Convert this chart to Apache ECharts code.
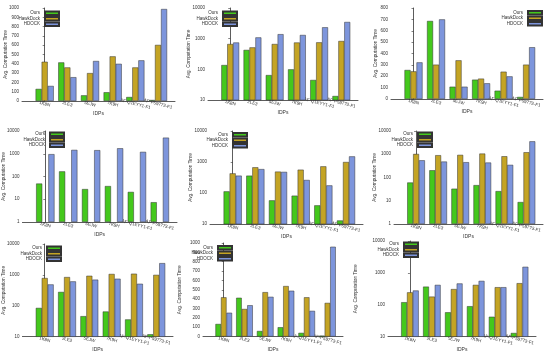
<!DOCTYPE html>
<html><head><meta charset="utf-8">
<script src="https://cdn.jsdelivr.net/npm/echarts@6/dist/echarts.min.js"></script>
<style>html,body{margin:0;padding:0;background:#fff}#c{width:550px;height:353px}</style>
</head><body><div id="c"></div>
<script>
const categories = ['1K8N', '2LE3', '5EJW', '7K9H', 'AF-Q1EYY1-F1', 'AF-P59773-F1'];
const seriesNames = ['Ours', 'HawkDock', 'HDOCK'];

const ours1 = [130, 415, 61, 94, 43, 11];
const hawk1 = [422, 361, 300, 480, 361, 603];
const hdock1 = [162, 256, 430, 400, 437, 989];

const ours2 = [138, 430, 65, 100, 45, 13.5];
const hawk2 = [670, 520, 670, 750, 760, 840];
const hdock2 = [750, 1100, 1400, 1320, 2350, 3500];

const ours3 = [255, 686, 108, 170, 73, 18];
const hawk3 = [243, 302, 340, 179, 240, 302];
const hdock3 = [322, 700, 108, 138, 199, 455];

const ours4 = [49, 168, 28, 38, 21, 7.4];
const hawk4 = [null, null, null, null, null, null];
const hdock4 = [960, 1480, 1440, 1740, 1210, 5100];

const ours5 = [113, 363, 58, 82, 40, 13];
const hawk5 = [430, 675, 490, 565, 725, 1000];
const hdock5 = [363, 590, 480, 263, 176, 1520];

const ours6 = [61, 205, 33, 47, 26, 8.8];
const hawk6 = [1030, 910, 940, 1070, 820, 1220];
const hdock6 = [550, 485, 455, 440, 350, 3600];

const ours7 = [85, 280, 46, 65, 36, 11.9];
const hawk7 = [790, 850, 935, 1070, 1090, 1000];
const hdock7 = [490, 615, 700, 750, 515, 2400];

const ours8 = [135, 415, 60, 100, 40, 10];
const hawk8 = [420, 295, 475, 540, 420, 360];
const hdock8 = [255, 335, 425, 490, 275, 960];

const ours9 = [120, 370, 58, 90, 42, 13];
const hawk9 = [245, 180, 310, 420, 355, 475];
const hdock9 = [280, 420, 465, 560, 355, 1550];

const colors = ['#44c81c', '#c4a424', '#7d95dc'];
const FONT = 'Liberation Sans';

const panels = [
  { d: [ours1, hawk1, hdock1], log: false, min: 0, max: 1000, interval: 100, g: [22, 8, 153, 93], yGap: 13, xGap: 8, lg: [490, 10.5] },
  { d: [ours2, hawk2, hdock2], log: true, min: 10, max: 10000, g: [208, 8, 150, 92], yGap: 13, xGap: 8, lg: [312, 10.5] },
  { d: [ours3, hawk3, hdock3], log: false, min: 0, max: 800, interval: 100, g: [391, 8, 152, 91], yGap: 13, xGap: 9, lg: [7, 10] },
  { d: [ours4, hawk4, hdock4], log: true, min: 1, max: 10000, g: [22, 131, 155, 91], yGap: 13, xGap: 10, lg: [485, 131.5] },
  { d: [ours5, hawk5, hdock5], log: true, min: 10, max: 10000, g: [210, 131, 153, 93], yGap: 16, xGap: 8, lg: [302, 132] },
  { d: [ours6, hawk6, hdock6], log: true, min: 1, max: 10000, g: [394, 131, 149, 93], yGap: 14, xGap: 9, lg: [117, 131.5] },
  { d: [ours7, hawk7, hdock7], log: true, min: 10, max: 10000, g: [22, 244, 151, 93], yGap: 13, xGap: 8, lg: [488, 245.5] },
  { d: [ours8, hawk8, hdock8], log: false, min: 0, max: 1000, interval: 100, g: [203, 243, 140, 94], yGap: 21, xGap: 9, lg: [317, 245] },
  { d: [ours9, hawk9, hdock9], log: true, min: 10, max: 10000, g: [388, 241, 148, 97], yGap: 30, xGap: 10, lg: [131, 241.5] }
];

const grid = [], xAxis = [], yAxis = [], series = [], legend = [];
panels.forEach((p, i) => {
  grid.push({ left: p.g[0], top: p.g[1], width: p.g[2], height: p.g[3], containLabel: false });
  xAxis.push({
    type: 'value', gridIndex: i, min: -1, max: 5.75, interval: 1,
    axisLine: { onZero: false, lineStyle: { color: '#333', width: 0.8 } },
    axisTick: { show: false }, splitLine: { show: false },
    axisLabel: {
      formatter: v => (Number.isInteger(v) && v >= 0 && v < categories.length) ? categories[v] : '',
      rotate: -15, align: 'center', fontSize: 4.5, margin: 3, color: '#333', fontFamily: FONT,
      hideOverlap: false, minMargin: 0
    },
    name: 'IDPs', nameLocation: 'middle', nameGap: p.xGap,
    nameTextStyle: { fontSize: 5, color: '#333', fontFamily: FONT }
  });
  const ya = {
    gridIndex: i, min: p.min, max: p.max,
    axisLine: { show: true, lineStyle: { color: '#333', width: 0.8 } },
    axisTick: { show: true, length: 2, interval: 0, lineStyle: { color: '#333', width: 0.6 } },
    splitLine: { show: false },
    axisLabel: { fontSize: 4.5, margin: 3, color: '#333', fontFamily: FONT, interval: 0, hideOverlap: false,
      minMargin: 0, textMargin: 0, showMinLabel: true, showMaxLabel: true, formatter: v => String(Math.round(v)) },
    name: 'Avg. Computation Time', nameLocation: 'middle', nameGap: p.yGap,
    nameTextStyle: { fontSize: 4.7, color: '#333', fontFamily: FONT }
  };
  if (p.log) { ya.type = 'log'; ya.logBase = 10; } else { ya.type = 'value'; ya.interval = p.interval; }
  yAxis.push(ya);
  p.d.forEach((arr, k) => {
    series.push({
      type: 'bar', name: seriesNames[k], xAxisIndex: i, yAxisIndex: i,
      data: arr.map((v, j) => [j, v == null ? '-' : v]),
      barCategoryGap: '20%', barGap: '0%', clip: true,
      itemStyle: { color: colors[k], borderColor: '#333', borderWidth: 0.5 }
    });
  });
  legend.push({
    data: seriesNames.map(n => ({ name: n, icon: 'rect' })), orient: 'vertical', align: 'right', right: p.lg[0], top: p.lg[1],
    itemWidth: 14, itemHeight: 3.5, itemGap: 0, selectedMode: false, padding: 0,
    textStyle: { fontSize: 4.5, lineHeight: 5, color: '#333', fontFamily: FONT }
  });
});

const chart = echarts.init(document.getElementById('c'), null, { renderer: 'canvas' });
chart.setOption({ animation: false, backgroundColor: '#fff', grid, xAxis, yAxis, series, legend });
</script></body></html>
